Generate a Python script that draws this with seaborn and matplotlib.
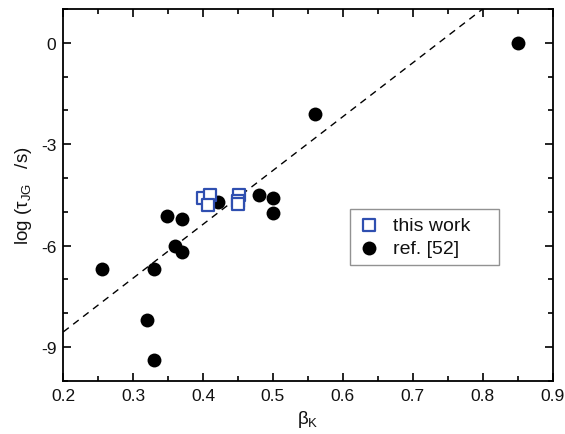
import matplotlib
matplotlib.use("Agg")
import matplotlib.pyplot as plt
from matplotlib.ticker import MultipleLocator
import seaborn as sns
import pandas as pd

# this work (blue open squares)
work_beta = [0.400, 0.410, 0.407, 0.452, 0.450, 0.450]
work_logtau = [-4.59, -4.50, -4.79, -4.50, -4.69, -4.76]

# ref. [52] (black filled circles)
ref_beta = [0.255, 0.330, 0.320, 0.330, 0.349, 0.360, 0.370, 0.370,
            0.421, 0.480, 0.500, 0.500, 0.560, 0.850]
ref_logtau = [-6.70, -6.70, -8.20, -9.39, -5.12, -6.00, -5.22, -6.20,
              -4.72, -4.50, -4.60, -5.02, -2.10, 0.00]

# dashed guide line endpoints
line_beta = [0.20, 0.80]
line_logtau = [-8.55, 1.00]

sns.set_style("ticks")
plt.rcParams["font.family"] = ["Liberation Sans", "DejaVu Sans"]
plt.rcParams["mathtext.fontset"] = "custom"
plt.rcParams["mathtext.rm"] = "Liberation Sans"
plt.rcParams["mathtext.it"] = "Liberation Sans:italic"
plt.rcParams["axes.unicode_minus"] = False
plt.rcParams["text.color"] = "#111111"
plt.rcParams["axes.labelcolor"] = "#111111"
plt.rcParams["xtick.color"] = "black"
plt.rcParams["ytick.color"] = "black"
plt.rcParams["xtick.labelcolor"] = "#111111"
plt.rcParams["ytick.labelcolor"] = "#111111"

fig = plt.figure(figsize=(5.65, 4.35), dpi=100)
ax = fig.add_axes([0.112, 0.122, 0.866, 0.855])

ax.plot(line_beta, line_logtau, color="black", lw=1.0, ls=(0, (5, 4)), zorder=1)

df_ref = pd.DataFrame({"beta": ref_beta, "logtau": ref_logtau})
df_work = pd.DataFrame({"beta": work_beta, "logtau": work_logtau})

sns.scatterplot(data=df_ref, x="beta", y="logtau", ax=ax, color="black",
                s=100, marker="o", edgecolor="black", linewidth=0,
                label="ref. [52]", zorder=2)
sns.scatterplot(data=df_work, x="beta", y="logtau", ax=ax, marker="s",
                s=85, facecolor="white", edgecolor="#2f4fb0", linewidth=1.6,
                label="this work", zorder=3)

ax.set_xlim(0.2, 0.9)
ax.set_ylim(-10, 1)
ax.xaxis.set_major_locator(MultipleLocator(0.1))
ax.xaxis.set_minor_locator(MultipleLocator(0.05))
ax.yaxis.set_major_locator(MultipleLocator(3))
ax.yaxis.set_minor_locator(MultipleLocator(1))
ax.tick_params(which="both", direction="in", top=True, right=True,
               labelsize=12.5, width=1.2, pad=5)
ax.tick_params(which="major", length=6)
ax.tick_params(which="minor", length=3.5)
for sp in ax.spines.values():
    sp.set_linewidth(1.3)
    sp.set_color("black")

ax.set_xlabel("β$_{\\mathrm{K}}$", fontsize=13.5, labelpad=4)
ax.set_ylabel("log (τ$_{\\mathrm{JG}}$   /s)", fontsize=13.5, labelpad=5)

handles, labels = ax.get_legend_handles_labels()
order = [labels.index("this work"), labels.index("ref. [52]")]
leg = ax.legend([handles[i] for i in order],
                [labels[i] + "    " for i in order],
                loc="upper left", bbox_to_anchor=(0.586, 0.462),
                fontsize=14, frameon=True, fancybox=False,
                edgecolor="#777777", handletextpad=0.6, borderpad=0.4,
                handlelength=1.2, labelspacing=0.25, borderaxespad=0)
leg.get_frame().set_linewidth(1.0)

fig.savefig("out.png", dpi=100)
